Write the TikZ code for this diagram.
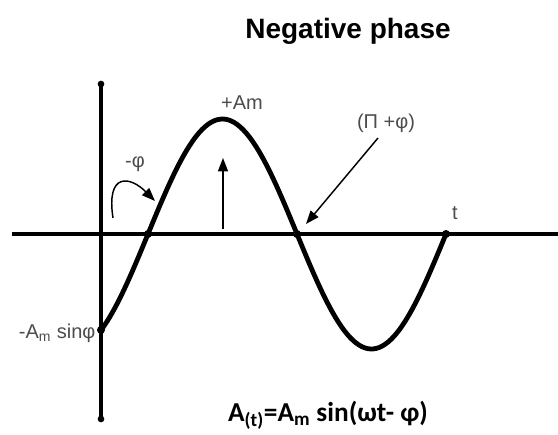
\documentclass[tikz,border=0pt]{standalone}
\usepackage{fontspec}
\setmainfont{Liberation Sans}
\newfontfamily\formfont{Carlito}
\usetikzlibrary{arrows.meta}

\begin{document}
\begin{tikzpicture}[
    x=0.75pt, y=-0.75pt,
    axis/.style={line width=3pt},
    wave/.style={line width=3.6pt, line join=round},
    pointer/.style={-{Triangle[length=10pt,width=7.5pt]}, line width=1.1pt},
    lbl/.style={text=black!70, font=\fontsize{15}{18}\selectfont, inner sep=1pt},
    dot/.style={circle, fill, inner sep=0pt, minimum size=6pt}
]
\useasboundingbox (0,0) rectangle (558,435);

\node[font=\bfseries\fontsize{21}{25}\selectfont] (title) at (348,31) {Negative phase};

% axes
\coordinate (xl) at (12,234);
\coordinate (xr) at (558,234);
\coordinate (yt) at (101,84);
\coordinate (yb) at (101,419);
\draw[axis] (xl) -- (xr);
\draw[axis] (yt) -- (yb);
\node[dot, minimum size=5pt] at (yt) {};
\node[dot, minimum size=5pt] at (yb) {};

% the wave
\draw[wave] plot[domain=101:446, samples=120, smooth] (\x, {234-115*sin((\x-148)*1.20805)});
\node[dot] (z0) at (101,330) {};
\node[dot] (z1) at (148,234) {};
\node[dot] (z2) at (297,234) {};
\node[dot] (z3) at (446,234) {};

% amplitude
\coordinate (pkfoot) at (223,229);
\coordinate (pktip) at (223,158);
\draw[pointer] (pkfoot) -- (pktip);
\node[lbl] (amp) at (242,103) {+Am};

% phase shift
\node[lbl] (phi) at (135,164) {-φ};
\coordinate (ph0) at (113,218);
\coordinate (ph1) at (155,201);
\draw[pointer] (ph0) .. controls (106,172) and (130,176) .. (ph1);

\node[lbl] (shift) at (386,123) {(Π +φ)};
\coordinate (sh0) at (378,138);
\coordinate (sh1) at (306,224);
\draw[pointer] (sh0) -- (sh1);

\node[lbl] (t) at (455,213) {t};
\node[lbl, anchor=east] (off) at (97,333) {-A\textsubscript{m} sinφ};

\node[font=\formfont\bfseries\fontsize{20.5}{24}\selectfont] (formula) at (328,415) {A\textsubscript{(t)}=A\textsubscript{m} sin(ωt- φ)};
\end{tikzpicture}
\end{document}
